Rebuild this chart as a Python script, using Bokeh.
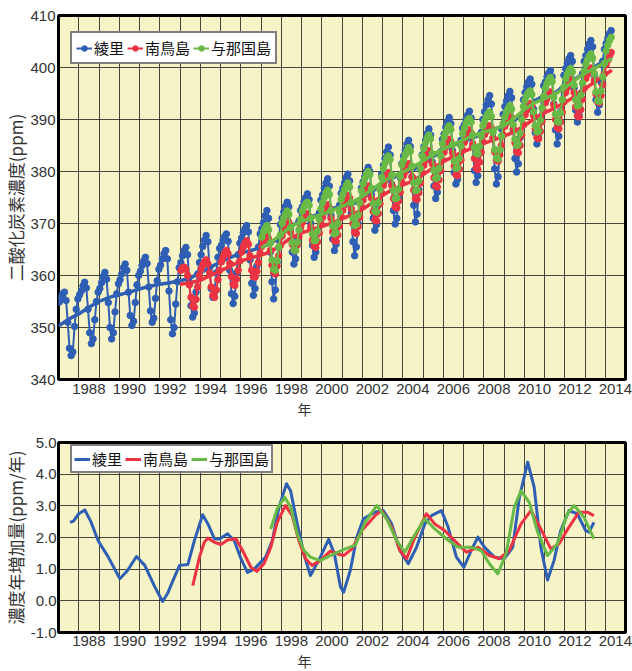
from bokeh.plotting import figure
from bokeh.models import (Range1d, FixedTicker, CustomJSTickFormatter, Legend,
                          LegendItem, Title, NumeralTickFormatter)
from bokeh.layouts import column
from bokeh.embed import file_html
from bokeh.resources import INLINE

# ---------------- data ----------------
STATIONS = ["綾里", "南鳥島", "与那国島"]

# monthly mean CO2 (ppm); Ryori from Jan 1987, Minamitorishima from Jan 1993,
# Yonagunijima from Jan 1997; all end Apr 2014
RYORI_START = 1987
RYORI_CO2 = [
    354.9, 355.8, 356.5, 356.8, 355.2, 351.0, 346.0, 344.6, 345.3, 350.2, 353.5, 355.5,
    356.3, 357.0, 358.0, 358.7, 357.6, 353.5, 349.0, 346.9, 347.8, 351.5, 355.0, 356.8,
    357.5, 358.6, 359.8, 360.6, 359.3, 354.8, 350.0, 347.8, 349.0, 353.0, 356.5, 358.4,
    359.2, 360.3, 361.5, 362.2, 361.0, 356.8, 352.3, 350.4, 351.2, 354.8, 358.2, 360.0,
    360.8, 361.9, 362.8, 363.5, 362.3, 357.8, 353.2, 351.0, 351.8, 355.6, 359.0, 361.2,
    362.0, 363.2, 364.2, 364.8, 363.2, 357.0, 351.5, 348.8, 350.0, 354.5, 358.8, 361.5,
    362.5, 363.8, 364.8, 365.4, 364.0, 358.8, 354.2, 352.0, 352.8, 356.8, 360.3, 362.5,
    364.0, 365.6, 366.8, 367.7, 366.5, 361.5, 357.5, 355.8, 356.8, 360.5, 363.5, 365.2,
    365.8, 366.8, 367.5, 368.0, 366.6, 361.0, 356.5, 354.6, 356.0, 360.5, 364.0, 366.2,
    367.2, 368.2, 369.0, 369.6, 368.4, 363.0, 358.5, 356.2, 357.5, 361.8, 365.5, 368.0,
    369.0, 370.2, 371.5, 372.5, 371.0, 364.5, 358.8, 355.5, 357.2, 362.5, 366.8, 369.8,
    371.0, 372.2, 373.3, 374.1, 373.2, 369.0, 364.5, 362.2, 363.2, 367.0, 370.5, 372.5,
    373.2, 374.2, 375.0, 375.7, 374.6, 370.0, 365.8, 363.5, 364.5, 368.5, 372.0, 374.5,
    375.5, 376.8, 377.8, 378.6, 377.2, 371.5, 367.0, 364.8, 366.0, 370.0, 373.5, 375.8,
    376.8, 377.8, 378.8, 379.5, 378.2, 372.0, 366.5, 363.8, 365.5, 370.0, 374.0, 376.8,
    378.0, 379.0, 380.0, 380.8, 380.0, 375.5, 371.0, 368.7, 369.8, 373.5, 377.0, 379.5,
    381.2, 382.5, 383.8, 384.7, 383.2, 377.5, 372.5, 369.9, 371.0, 375.0, 378.8, 381.5,
    383.0, 384.2, 385.3, 386.0, 384.8, 379.0, 373.5, 370.3, 371.8, 376.5, 380.5, 383.2,
    384.8, 386.0, 387.3, 388.2, 387.0, 381.8, 377.2, 374.8, 376.0, 380.0, 383.8, 386.2,
    387.2, 388.5, 389.6, 390.4, 389.2, 384.0, 379.8, 377.6, 378.5, 382.5, 386.0, 388.3,
    389.0, 390.0, 390.9, 391.6, 390.3, 384.8, 380.2, 377.9, 379.2, 383.5, 387.5, 390.0,
    391.5, 392.8, 393.8, 394.6, 393.0, 386.5, 380.5, 377.6, 379.0, 384.0, 388.2, 391.0,
    392.5, 393.6, 394.6, 395.4, 394.2, 388.0, 382.5, 379.9, 381.5, 386.5, 390.8, 393.8,
    395.2, 396.3, 397.2, 397.8, 396.8, 392.0, 387.5, 385.3, 386.5, 390.5, 394.0, 396.5,
    397.2, 398.2, 398.9, 399.4, 398.2, 393.0, 388.0, 385.3, 386.8, 391.5, 395.8, 398.5,
    399.8, 400.8, 401.7, 402.3, 401.2, 396.0, 391.8, 389.5, 390.8, 395.0, 398.8, 401.2,
    402.3, 403.5, 404.5, 405.2, 404.0, 398.5, 393.8, 391.4, 392.8, 397.2, 401.2, 403.5,
    404.6, 405.6, 406.5, 407.1,
]

MINAMI_START = 1993
MINAMI_CO2 = [
    361.0, 361.5, 361.6, 361.2, 360.0, 358.2, 355.8, 354.2, 353.9, 355.4, 357.8, 360.0,
    361.2, 362.0, 362.6, 363.0, 362.3, 360.5, 357.8, 356.2, 355.8, 357.2, 359.2, 361.0,
    362.6, 363.5, 364.3, 364.8, 364.2, 362.3, 359.8, 358.3, 358.1, 359.3, 361.0, 362.8,
    364.5, 365.5, 366.2, 366.7, 366.0, 363.8, 361.0, 359.8, 359.7, 360.8, 362.5, 364.3,
    365.6, 366.5, 367.2, 367.7, 367.0, 364.8, 362.0, 360.6, 360.3, 361.8, 363.8, 365.8,
    367.6, 368.7, 369.8, 370.6, 370.2, 368.3, 366.0, 364.9, 364.8, 365.9, 367.5, 369.2,
    370.2, 370.9, 371.5, 371.9, 371.3, 369.3, 366.8, 365.6, 365.4, 366.5, 368.2, 370.0,
    371.2, 372.2, 373.0, 373.6, 373.0, 371.0, 368.4, 366.8, 366.6, 367.8, 369.5, 371.4,
    372.6, 373.6, 374.6, 375.4, 374.9, 372.8, 370.0, 368.3, 368.1, 369.4, 371.2, 373.2,
    374.5, 375.6, 376.6, 377.2, 376.8, 374.9, 372.3, 370.7, 370.5, 371.9, 373.8, 375.9,
    377.3, 378.3, 379.2, 379.8, 379.3, 377.3, 374.8, 373.2, 373.0, 374.3, 376.0, 377.9,
    379.2, 380.0, 380.9, 381.5, 381.0, 379.0, 376.4, 374.8, 374.6, 375.9, 377.8, 379.8,
    381.2, 382.2, 383.3, 384.0, 383.5, 381.5, 378.8, 377.2, 377.0, 378.4, 380.2, 382.2,
    383.7, 384.7, 385.6, 386.2, 385.7, 383.6, 381.0, 379.4, 379.2, 380.5, 382.2, 384.1,
    385.6, 386.6, 387.4, 388.0, 387.4, 385.3, 382.5, 380.7, 380.4, 381.8, 383.7, 385.7,
    387.1, 387.8, 388.4, 388.8, 388.3, 386.4, 383.8, 382.2, 382.0, 383.2, 385.0, 387.0,
    388.7, 389.5, 390.2, 390.8, 390.3, 388.3, 385.5, 383.8, 383.6, 385.0, 387.0, 389.0,
    390.9, 391.8, 392.6, 393.1, 392.7, 390.8, 388.2, 386.5, 386.3, 387.7, 389.6, 391.6,
    393.2, 394.0, 394.8, 395.3, 394.8, 392.8, 390.0, 388.4, 388.2, 389.5, 391.4, 393.4,
    395.2, 396.1, 397.0, 397.8, 397.3, 395.2, 392.4, 390.7, 390.5, 391.9, 393.9, 396.0,
    397.9, 398.7, 399.4, 399.9, 399.4, 397.5, 394.9, 393.4, 393.2, 394.6, 396.6, 398.8,
    400.5, 401.4, 402.3, 402.9,
]

YONA_START = 1997
YONA_CO2 = [
    367.4, 368.4, 369.1, 369.6, 368.8, 366.2, 363.0, 361.2, 361.0, 362.8, 365.5, 367.8,
    370.0, 371.0, 371.8, 372.4, 371.8, 369.2, 366.3, 364.9, 364.8, 366.4, 368.8, 370.8,
    372.4, 373.2, 373.8, 374.1, 373.5, 371.0, 368.0, 366.7, 366.8, 368.5, 370.8, 372.8,
    374.0, 375.0, 375.9, 376.4, 375.6, 372.5, 369.5, 368.0, 368.2, 370.0, 372.2, 374.6,
    375.6, 376.5, 377.3, 377.8, 377.0, 374.0, 371.0, 369.6, 369.8, 371.6, 374.0, 376.3,
    377.6, 378.6, 379.5, 380.0, 379.4, 376.8, 373.8, 372.3, 372.2, 374.0, 376.5, 378.9,
    380.6, 381.6, 382.5, 383.0, 382.3, 379.3, 376.3, 374.8, 374.9, 376.6, 379.0, 381.3,
    382.2, 383.2, 384.0, 384.6, 383.9, 381.0, 377.8, 376.3, 376.4, 378.2, 380.6, 383.0,
    384.4, 385.5, 386.4, 387.0, 386.3, 383.4, 380.2, 378.7, 378.8, 380.6, 383.0, 385.4,
    386.6, 387.5, 388.3, 388.8, 388.1, 385.2, 382.0, 380.6, 380.7, 382.5, 384.9, 387.3,
    388.3, 389.2, 389.9, 390.2, 389.5, 387.0, 384.6, 383.5, 383.4, 384.8, 386.8, 388.8,
    389.7, 390.5, 391.1, 391.4, 390.6, 387.5, 384.2, 382.6, 382.4, 384.2, 386.8, 389.2,
    390.5, 391.4, 392.1, 392.7, 392.0, 389.0, 386.2, 385.0, 385.2, 387.3, 390.0, 392.5,
    393.7, 394.6, 395.2, 395.5, 394.8, 391.5, 388.8, 387.6, 387.8, 389.8, 392.2, 394.5,
    396.0, 396.9, 397.6, 398.1, 397.3, 394.3, 391.0, 389.6, 389.5, 391.3, 393.8, 396.3,
    397.8, 398.7, 399.4, 399.8, 399.2, 396.6, 393.8, 392.6, 392.8, 394.7, 397.0, 399.3,
    400.6, 401.5, 402.2, 402.6, 401.8, 398.8, 395.3, 393.6, 393.5, 395.5, 398.2, 400.8,
    403.2, 404.3, 405.2, 405.8,
]

# deseasonalised trend, every half year from the station's start (+ Apr 2014)
RYORI_TREND = [
    350.3, 351.6, 352.6, 353.9, 355.0, 355.8, 356.3, 356.8, 357.4, 357.95,
    358.3, 358.6, 359.0, 359.5, 360.5, 361.6, 362.6, 363.5, 364.3, 364.8,
    365.4, 366.2, 367.7, 369.5, 370.8, 371.3, 372.0, 372.9, 373.3, 373.6,
    374.8, 376.2, 377.6, 378.8, 379.6, 380.3, 381.4, 382.8, 384.2, 385.1,
    385.7, 386.5, 387.4, 388.1, 388.8, 389.7, 391.6, 393.6, 394.6, 395.1,
    396.4, 397.8, 399.0, 400.2, 401.4, 402.1,
]
MINAMI_TREND = [
    358.3, 358.6, 359.05, 360.0, 360.9, 361.85, 362.75, 363.4, 363.9, 364.6,
    365.9, 367.3, 368.2, 368.8, 369.4, 370.1, 370.9, 371.7, 372.7, 374.0,
    375.4, 376.6, 377.4, 378.2, 379.4, 380.7, 381.9, 382.9, 383.8, 384.6,
    385.4, 386.1, 386.8, 387.6, 388.8, 390.2, 391.3, 392.2, 393.2, 394.5,
    395.9, 397.3, 398.6, 399.5,
]
YONA_TREND = [
    365.3, 366.4, 367.9, 369.5, 370.4, 371.1, 371.75, 372.5, 373.3, 374.1,
    375.2, 376.6, 378.0, 379.1, 379.9, 380.8, 382.0, 383.3, 384.3, 385.2,
    386.1, 386.9, 387.6, 388.1, 388.8, 390.2, 391.9, 393.2, 394.0, 394.8,
    396.1, 397.6, 398.9, 399.9, 401.0, 401.7,
]
TREND_END = 2014.33

# annual growth rate (ppm/year)
RYORI_GR_X = [1987.57, 1987.74, 1988.0, 1988.3, 1988.6, 1988.96, 1989.46, 1990.03, 1990.4,
              1990.85, 1991.26, 1991.75, 1992.14, 1992.4, 1992.65, 1992.98, 1993.39, 1993.71,
              1994.12, 1994.4, 1994.7, 1994.95, 1995.35, 1995.68, 1996.0, 1996.33, 1996.66,
              1997.23, 1997.56, 1997.89, 1998.26, 1998.46, 1998.79, 1999.12, 1999.44, 1999.93,
              2000.34, 2000.62, 2000.92, 2001.08, 2001.41, 2001.73, 2002.06, 2002.63, 2003.04,
              2003.45, 2003.86, 2004.27, 2004.68, 2005.09, 2005.42, 2005.91, 2006.24, 2006.65,
              2007.02, 2007.38, 2007.71, 2008.04, 2008.53, 2009.02, 2009.43, 2009.76, 2010.17,
              2010.49, 2010.82, 2011.15, 2011.47, 2011.8, 2012.21, 2012.62, 2013.03, 2013.2,
              2013.44]
RYORI_GR = [2.48, 2.52, 2.75, 2.87, 2.5, 1.9, 1.38, 0.7, 0.95,
            1.4, 1.12, 0.45, -0.02, 0.25, 0.64, 1.12, 1.15, 1.9,
            2.72, 2.4, 1.96, 1.95, 2.12, 1.9, 1.35, 0.9, 1.0,
            1.38, 1.9, 2.96, 3.7, 3.48, 2.43, 1.48, 0.8, 1.38,
            1.94, 1.5, 0.45, 0.27, 0.96, 2.01, 2.59, 2.8, 2.85,
            2.43, 1.59, 1.17, 1.69, 2.43, 2.69, 2.85, 2.33, 1.38,
            1.06, 1.59, 2.01, 1.69, 1.38, 1.33, 1.69, 3.27, 4.38,
            3.59, 1.69, 0.66, 1.27, 2.22, 2.85, 2.75, 2.22, 2.17,
            2.48]
MINAMI_GR_X = [1993.63, 1993.96, 1994.2, 1994.37, 1994.7, 1995.02, 1995.35, 1995.76, 1996.09,
               1996.5, 1996.79, 1997.15, 1997.48, 1997.8, 1998.21, 1998.54, 1998.87, 1999.2,
               1999.52, 1999.93, 2000.42, 2000.8, 2001.08, 2001.49, 2001.98, 2002.63, 2002.96,
               2003.45, 2003.86, 2004.19, 2004.6, 2005.17, 2005.58, 2006.07, 2006.56, 2007.14,
               2007.71, 2008.28, 2008.77, 2009.26, 2009.84, 2010.33, 2010.82, 2011.31, 2011.72,
               2012.21, 2012.7, 2013.11, 2013.44]
MINAMI_GR = [0.48, 1.38, 1.85, 1.98, 1.85, 1.78, 1.92, 1.96, 1.59,
             1.06, 0.93, 1.17, 1.69, 2.48, 3.01, 2.69, 1.9, 1.33,
             1.12, 1.27, 1.57, 1.48, 1.43, 1.64, 2.22, 2.69, 2.85,
             2.33, 1.59, 1.33, 2.01, 2.75, 2.43, 2.22, 1.9, 1.54,
             1.69, 1.43, 1.33, 1.59, 2.43, 2.85, 2.27, 1.64, 1.8,
             2.33, 2.8, 2.8, 2.69]
YONA_GR_X = [1997.48, 1997.8, 1998.17, 1998.46, 1998.79, 1999.12, 1999.44, 1999.93, 2000.42,
             2001.16, 2001.65, 2002.14, 2002.72, 2003.21, 2003.7, 2004.11, 2004.52, 2005.09,
             2005.58, 2006.15, 2006.73, 2007.38, 2007.87, 2008.28, 2008.69, 2009.1, 2009.51,
             2009.84, 2010.25, 2010.66, 2011.15, 2011.64, 2012.13, 2012.46, 2012.95, 2013.44]
YONA_GR = [2.27, 2.91, 3.27, 2.96, 2.12, 1.59, 1.38, 1.27, 1.43,
           1.64, 1.75, 2.48, 3.01, 2.59, 1.9, 1.54, 2.01, 2.59,
           2.27, 1.96, 1.69, 1.69, 1.59, 1.17, 0.85, 1.48, 2.96,
           3.48, 3.11, 2.17, 1.43, 1.8, 2.75, 3.01, 2.64, 1.96]

CO2_TICKS = [340, 350, 360, 370, 380, 390, 400, 410]
GR_TICKS = [-1.0, 0.0, 1.0, 2.0, 3.0, 4.0, 5.0]
YEAR_LABELS = list(range(1988, 2015, 2))
YEAR_GRID = list(range(1988, 2015))

# ---------------- styling ----------------
BG = "#f6f3c6"
BLUE = "#2f5fb4"
RED = "#ec3343"
GREEN = "#69b947"
JP = "Noto Sans CJK JP"
NUM = "Liberation Sans Narrow, Liberation Sans"


def monthly_x(start, values):
    return [start + (i + 0.5) / 12 for i in range(len(values))]


def trend_x(start, values):
    return [start + 0.5 * i for i in range(len(values) - 1)] + [TREND_END]


def style(p, yticks, ytitle):
    p.background_fill_color = BG
    p.border_fill_color = "white"
    p.outline_line_color = "black"
    p.outline_line_width = 3
    p.xaxis.ticker = FixedTicker(ticks=[y + 0.5 for y in YEAR_LABELS])
    p.xaxis.formatter = CustomJSTickFormatter(code="return String(Math.floor(tick));")
    p.xgrid.ticker = FixedTicker(ticks=YEAR_GRID)
    p.yaxis.ticker = FixedTicker(ticks=yticks)
    p.ygrid.ticker = FixedTicker(ticks=yticks)
    for g in (p.xgrid, p.ygrid):
        g.grid_line_color = "#1a1a1a"
        g.grid_line_alpha = 0.8
        g.grid_line_width = 1
    for ax in (p.xaxis, p.yaxis):
        ax.axis_line_color = None
        ax.major_tick_line_color = None
        ax.minor_tick_line_color = None
        ax.major_tick_out = 0
        ax.major_tick_in = 0
        ax.minor_tick_out = 0
        ax.minor_tick_in = 0
        ax.major_label_text_font = NUM
        ax.major_label_text_font_size = "15px"
        ax.major_label_text_color = "#333333"
    p.xaxis.major_label_standoff = 4
    p.yaxis.major_label_standoff = 3
    p.add_layout(Title(text=ytitle, align="center", text_font=JP, text_font_size="17px",
                       text_font_style="normal", text_color="#333333", standoff=0),
                 "left")
    p.add_layout(Title(text="年", align="left", offset=239, text_font=JP,
                       text_font_size="14px", text_font_style="normal",
                       text_color="#333333", standoff=0),
                 "below")


def style_legend(lg, loc, pad):
    lg.location = loc
    lg.orientation = "horizontal"
    lg.label_text_font = JP
    lg.label_text_font_size = "15px"
    lg.label_text_color = "#111111"
    lg.label_height = 20
    lg.border_line_color = "black"
    lg.border_line_width = 2
    lg.background_fill_color = "white"
    lg.background_fill_alpha = 1.0
    lg.glyph_width = 16
    lg.glyph_height = 14
    lg.label_standoff = 2
    lg.spacing = 3
    lg.padding = pad
    lg.margin = 0


# ---------------- top: CO2 concentration ----------------
p1 = figure(width=632, height=430, output_backend="svg", toolbar_location=None,
            x_range=Range1d(1987, 2015), y_range=Range1d(340, 410),
            min_border_left=55, min_border_right=7, min_border_top=15, min_border_bottom=51)
style(p1, CO2_TICKS, "二酸化炭素濃度(ppm)")

items1 = []
for name, start, vals, trend, col in [
        (STATIONS[0], RYORI_START, RYORI_CO2, RYORI_TREND, BLUE),
        (STATIONS[1], MINAMI_START, MINAMI_CO2, MINAMI_TREND, RED),
        (STATIONS[2], YONA_START, YONA_CO2, YONA_TREND, GREEN)]:
    xs = monthly_x(start, vals)
    rl = p1.line(xs, vals, line_color=col, line_width=2)
    rs = p1.scatter(xs, vals, size=6.5, fill_color=col, line_color=col)
    p1.line(trend_x(start, trend), trend, line_color=col, line_width=3.5)
    items1.append(LegendItem(label=name, renderers=[rl, rs]))

lg1 = Legend(items=items1)
style_legend(lg1, (12, 315), 4)
p1.add_layout(lg1)

# ---------------- bottom: growth rate ----------------
p2 = figure(width=632, height=241, output_backend="svg", toolbar_location=None,
            x_range=Range1d(1987, 2015), y_range=Range1d(-1.0, 5.0),
            min_border_left=55, min_border_right=7, min_border_top=12, min_border_bottom=39)
style(p2, GR_TICKS, "濃度年増加量(ppm/年)")
p2.yaxis.formatter = NumeralTickFormatter(format="0.0")
p2.yaxis.major_label_standoff = 2
p2.xaxis.major_label_standoff = 3

items2 = []
for name, xs, ys, col in [(STATIONS[0], RYORI_GR_X, RYORI_GR, BLUE),
                          (STATIONS[1], MINAMI_GR_X, MINAMI_GR, RED),
                          (STATIONS[2], YONA_GR_X, YONA_GR, GREEN)]:
    r = p2.line(xs, ys, line_color=col, line_width=3, line_join="round")
    items2.append(LegendItem(label=name, renderers=[r]))

lg2 = Legend(items=items2)
style_legend(lg2, (12, 159), 2)
p2.add_layout(lg2)

layout = column(p1, p2, spacing=0)
open("out.html", "w").write(file_html(layout, INLINE))
